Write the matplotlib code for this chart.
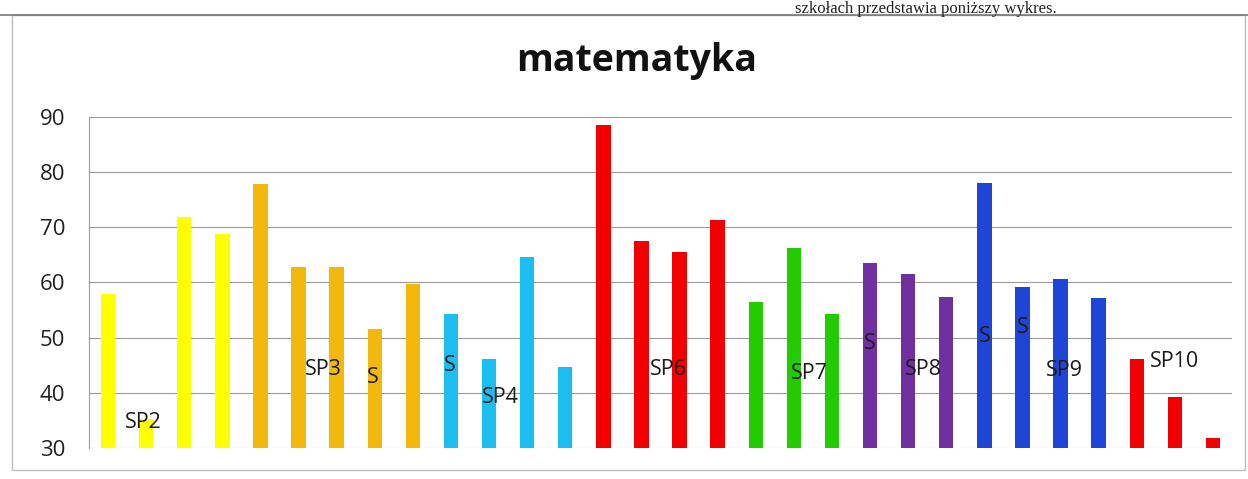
import matplotlib
matplotlib.use("Agg")
import matplotlib.pyplot as plt
import numpy as np

# wyniki (w procentach)
wyniki = [58, 35.3, 71.9, 68.8, 77.8, 62.8, 62.8, 51.6, 59.7,
          54.3, 46.2, 64.7, 44.6,
          88.5, 67.5, 65.5, 71.4,
          56.4, 66.2, 54.3,
          63.6, 61.5, 57.4,
          78.0, 59.2, 60.7, 57.2,
          46.1, 39.2, 31.8]
kolory = (["#ffff00"] * 4 + ["#f2b90c"] * 5 + ["#1cbdef"] * 4 + ["#f20000"] * 4
          + ["#22cc00"] * 3 + ["#7030a0"] * 3 + ["#1f45d6"] * 4 + ["#f20000"] * 3)

# opisy na wykresie: (tekst, pozycja słupka, wartość)
opisy = [("SP2", 0.92, 34.7), ("SP3", 5.64, 44.3), ("S", 6.96, 42.7),
         ("S", 8.98, 44.9), ("SP4", 10.3, 39.2), ("SP6", 14.7, 44.3),
         ("SP7", 18.4, 43.5), ("S", 20.0, 48.9), ("SP8", 21.4, 44.2),
         ("S", 23.0, 50.3), ("S", 24.0, 51.9), ("SP9", 25.1, 44.0),
         ("SP10", 28.0, 45.6)]

plt.rcParams['font.family'] = ['Open Sans', 'DejaVu Sans']

fig = plt.figure(figsize=(12.48, 4.79), dpi=100)

# ramka wykresu i linia tekstu nad nim
fig.add_artist(plt.Rectangle((12/1248, 1-470/479), 1233/1248, 455/479,
                             fill=False, edgecolor="#bdbdbd", lw=1))
fig.add_artist(plt.Line2D([0, 1], [1-15/479, 1-15/479], color="#777777", lw=1.2))
fig.text(795/1248, 1-1/479, "szkołach przedstawia poniższy wykres.",
         family="Liberation Serif", fontsize=12, va="top", ha="left",
         color="#222222")

ax = fig.add_axes([89/1248, 1-448/479, 1143/1248, 331/479])
x = np.arange(len(wyniki))
ax.bar(x, np.array(wyniki) - 30, bottom=30, width=0.38, color=kolory, zorder=2)

ax.set_ylim(30, 90)
ax.set_xlim(-0.5, len(wyniki) - 0.5)
ax.set_yticks(range(30, 91, 10))
ax.set_xticks([])
ax.grid(axis="y", color="#9a9a9a", lw=0.8, zorder=0)
for s in ["top", "right", "bottom"]:
    ax.spines[s].set_visible(False)
ax.spines["left"].set_color("#9a9a9a")
ax.spines["left"].set_linewidth(0.8)
ax.tick_params(axis="y", length=0, pad=17, labelsize=16, labelcolor="#222222")

for tekst, px, py in opisy:
    ax.text(px, py, tekst, ha="center", va="center", fontsize=15.5,
            color="#1a1a1a", zorder=3)

fig.text(637/1248, 1-61/479, "matematyka", ha="center", va="center",
         fontsize=27, fontweight="bold", color="#111111")

fig.savefig("out.png", dpi=100)
